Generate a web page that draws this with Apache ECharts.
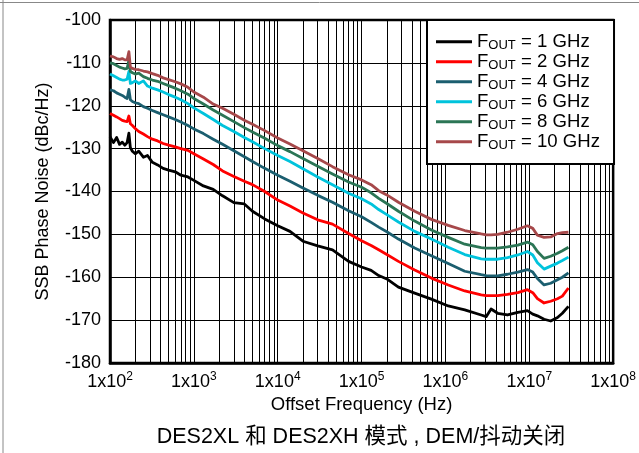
<!DOCTYPE html>
<html>
<head>
<meta charset="utf-8">
<script src="https://cdn.jsdelivr.net/npm/echarts@6/dist/echarts.min.js"></script>
<style>
html,body{margin:0;padding:0;background:#fff;}
#chart{width:639px;height:453px;}
</style>
</head>
<body>
<div id="chart"></div>
<script>
// ---- data (offset frequency in Hz, phase noise in dBc/Hz) ----
const FREQ = [100,110,120,130,140,150,160,168,175,185,200,220,250,280,320,370,430,500,600,700,850,1000,1300,1700,2200,3000,4000,5000,7000,1e4,1.4e4,2e4,3e4,4.5e4,7e4,1e5,1.3e5,1.6e5,2e5,2.75e5,4.3e5,6.8e5,1.08e6,1.7e6,2.67e6,3.06e6,3.5e6,4.2e6,5.5e6,7.3e6,9.5e6,1.1e7,1.25e7,1.5e7,1.8e7,2.17e7,2.48e7,2.93e7];

const PN_1GHZ = [-127.2,-128.6,-127.4,-129.0,-128.5,-129.2,-128.6,-126.4,-129.8,-130.6,-131.2,-130.6,-132.0,-131.6,-133.2,-133.8,-134.6,-135.0,-135.4,-136.2,-136.6,-137.4,-138.7,-139.5,-141.0,-142.6,-142.9,-144.6,-146.4,-148.0,-149.3,-151.6,-152.7,-153.6,-156.3,-157.6,-158.4,-159.6,-160.4,-162.3,-163.7,-165.1,-166.7,-167.6,-168.8,-169.2,-167.4,-168.4,-168.8,-168.2,-167.8,-168.6,-169.0,-169.8,-170.2,-169.4,-168.4,-166.8];
const PN_2GHZ = [-121.8,-122.2,-122.6,-123.0,-123.4,-123.6,-123.7,-122.4,-124.2,-124.6,-125.3,-126.0,-126.6,-127.2,-127.8,-128.2,-128.8,-129.2,-129.6,-130.0,-130.4,-131.2,-132.4,-133.7,-135.2,-136.5,-137.6,-138.4,-140.0,-142.0,-143.4,-145.0,-146.6,-147.6,-149.8,-151.5,-152.6,-153.6,-154.7,-156.3,-158.3,-160.2,-161.8,-163.2,-164.1,-164.3,-164.3,-164.3,-164.0,-163.6,-162.9,-163.6,-165.0,-166.0,-165.6,-165.0,-164.4,-162.5];
const PN_4GHZ = [-116.3,-116.5,-117.0,-117.3,-117.6,-118.0,-118.3,-116.2,-118.6,-119.0,-119.3,-119.5,-120.2,-120.6,-121.1,-121.6,-122.1,-122.6,-123.2,-123.8,-124.6,-125.4,-126.5,-127.8,-129.0,-130.5,-131.9,-133.0,-134.6,-136.2,-137.6,-139.2,-140.9,-142.5,-144.5,-145.9,-147.2,-148.3,-149.4,-151.1,-153.2,-155.0,-156.8,-158.6,-159.4,-159.6,-159.7,-159.7,-159.3,-158.8,-158.2,-158.8,-160.3,-161.8,-161.4,-160.6,-160.0,-159.0];
const PN_6GHZ = [-112.6,-113.0,-113.4,-113.8,-114.0,-114.0,-113.8,-112.0,-114.8,-114.6,-114.2,-114.8,-114.2,-115.4,-115.9,-116.3,-116.8,-117.4,-118.0,-118.6,-119.5,-120.5,-121.8,-123.2,-124.6,-126.0,-127.4,-128.4,-130.0,-131.6,-133.0,-134.7,-136.6,-138.4,-140.4,-141.7,-142.9,-144.2,-145.4,-147.1,-149.3,-151.1,-153.0,-154.7,-155.7,-155.8,-155.8,-155.8,-155.4,-154.8,-154.0,-154.8,-156.6,-158.1,-157.4,-156.7,-156.1,-155.3];
const PN_8GHZ = [-110.0,-110.2,-110.6,-111.0,-111.2,-111.4,-111.3,-109.4,-112.0,-112.3,-112.6,-112.4,-113.2,-113.6,-114.0,-114.3,-114.8,-115.3,-115.9,-116.5,-117.3,-118.3,-119.6,-121.0,-122.2,-123.7,-125.1,-126.1,-127.6,-129.3,-130.7,-132.3,-134.1,-135.9,-137.8,-139.0,-140.3,-141.6,-142.8,-144.6,-146.9,-149.0,-150.7,-152.3,-153.1,-153.2,-153.2,-153.2,-152.9,-152.5,-151.8,-152.4,-154.0,-155.6,-155.1,-154.4,-153.8,-153.0];
const PN_10GHZ = [-108.4,-108.6,-109.0,-109.2,-109.0,-109.3,-109.3,-107.4,-111.0,-111.3,-111.5,-111.6,-111.9,-112.1,-112.5,-112.9,-113.5,-113.9,-114.4,-114.9,-115.7,-116.8,-118.0,-119.6,-120.6,-122.0,-123.4,-124.3,-125.8,-127.5,-128.9,-130.5,-132.3,-134.2,-136.1,-137.3,-138.4,-139.8,-140.8,-142.5,-144.6,-146.5,-147.9,-149.1,-149.9,-150.1,-150.1,-150.0,-149.5,-148.8,-148.0,-148.6,-150.2,-150.7,-150.6,-149.8,-149.6,-149.5];

const SERIES_LABELS = ['1 GHz','2 GHz','4 GHz','6 GHz','8 GHz','10 GHz'];
const SERIES_VALUES = [PN_1GHZ, PN_2GHZ, PN_4GHZ, PN_6GHZ, PN_8GHZ, PN_10GHZ];
const Y_MIN = -180, Y_MAX = -100, Y_STEP = 10;
const X_MIN = 100, X_MAX = 1e8;
const TITLE = 'DES2XL 和 DES2XH 模式 , DEM/抖动关闭';
const X_NAME = 'Offset Frequency (Hz)';
const Y_NAME = 'SSB Phase Noise (dBc/Hz)';

// ---- styles ----
const COLORS = ['#000000','#ff0000','#1b5e6f','#00c3dc','#2b7555','#a6484a'];
const FONT = '"Liberation Sans", Arial, "Noto Sans CJK SC", sans-serif';

// minor gridlines at 2..9 x each decade
const MINOR_X = [];
for (let d = X_MIN; d < X_MAX; d *= 10) {
  for (let m = 2; m <= 9; m++) MINOR_X.push(d * m);
}

const series = SERIES_LABELS.map((lab, i) => ({
  name: 'FOUT = ' + lab,
  type: 'line',
  data: FREQ.map((f, k) => [f, SERIES_VALUES[i][k]]),
  showSymbol: false,
  symbol: 'none',
  z: 5,
  lineStyle: { color: COLORS[i], width: 2.8, join: 'round' },
  itemStyle: { color: COLORS[i] },
  silent: true,
  animation: false
}));

series.push({
  name: 'grid',
  type: 'line',
  data: [],
  z: 1,
  silent: true,
  animation: false,
  markLine: {
    z: 1,
    silent: true,
    symbol: ['none', 'none'],
    label: { show: false },
    animation: false,
    lineStyle: { color: '#000', width: 1, type: 'solid', opacity: 1 },
    emphasis: { disabled: true },
    data: MINOR_X.map(v => ({ xAxis: v }))
  }
});

const chart = echarts.init(document.getElementById('chart'), null, { renderer: 'canvas' });
chart.setOption({
  animation: false,
  backgroundColor: '#fff',
  textStyle: { fontFamily: FONT },
  grid: {
    left: 110, right: 23, top: 20, bottom: 90,
    show: true, borderColor: '#000', borderWidth: 2.5, backgroundColor: 'transparent'
  },
  legend: {
    data: SERIES_LABELS.map(l => 'FOUT = ' + l),
    orient: 'vertical',
    left: 427, top: 20,
    padding: [12, 14, 12, 9],
    itemWidth: 36, itemHeight: 3,
    itemStyle: { borderWidth: 0 },
    icon: 'rect',
    itemGap: 0,
    itemTextGap: 10,
    backgroundColor: '#fff',
    borderColor: '#000',
    borderWidth: 2,
    borderRadius: 0,
    selectedMode: false,
    formatter: name => '{f|F}{s|OUT}{f|' + name.replace('FOUT', '') + '}',
    textStyle: {
      fontFamily: FONT,
      color: '#000',
      rich: {
        f: { fontSize: 18.6, fontFamily: FONT, color: '#000', lineHeight: 20.3, verticalAlign: 'middle' },
        s: { fontSize: 13, fontFamily: FONT, color: '#000', lineHeight: 20.3, verticalAlign: 'bottom', padding: [7, 0, 0, 0] }
      }
    }
  },
  xAxis: {
    type: 'log', logBase: 10, min: X_MIN, max: X_MAX, splitNumber: 6,
    name: X_NAME, nameLocation: 'middle', nameGap: 33,
    nameTextStyle: { fontSize: 18.5, color: '#000', fontFamily: FONT },
    axisLine: { show: true, lineStyle: { color: '#000', width: 2.5 } },
    axisTick: { show: false },
    splitLine: { show: true, lineStyle: { color: '#000', width: 1 } },
    axisLabel: {
      margin: 8, color: '#000',
      formatter: v => '{a|1x10}{b|' + Math.round(Math.log10(v)) + '}',
      rich: {
        a: { fontSize: 18, fontFamily: FONT, color: '#000', lineHeight: 20, verticalAlign: 'bottom' },
        b: { fontSize: 12, fontFamily: FONT, color: '#000', lineHeight: 20, verticalAlign: 'top', padding: [0, 0, 7, 0] }
      }
    }
  },
  yAxis: {
    type: 'value', min: Y_MIN, max: Y_MAX, interval: Y_STEP,
    name: Y_NAME, nameLocation: 'middle', nameGap: 58, nameRotate: 90,
    nameTextStyle: { fontSize: 18, color: '#000', fontFamily: FONT },
    axisLine: { show: true, lineStyle: { color: '#000', width: 2.5 } },
    axisTick: { show: false },
    splitLine: { show: true, lineStyle: { color: '#000', width: 1 } },
    axisLabel: { fontSize: 18, color: '#000', margin: 9, fontFamily: FONT }
  },
  graphic: [
    { type: 'text', x: 361, y: 437, style: { text: TITLE, font: '21.5px ' + FONT, fill: '#000', align: 'center', verticalAlign: 'middle' }, z: 10 },
    { type: 'line', shape: { x1: 3, y1: 0, x2: 3, y2: 453 }, style: { stroke: '#888', lineWidth: 1 } },
    { type: 'line', shape: { x1: 0, y1: 2.5, x2: 639, y2: 2.5 }, style: { stroke: '#888', lineWidth: 1 } }
  ],
  series: series
});
</script>
</body>
</html>
